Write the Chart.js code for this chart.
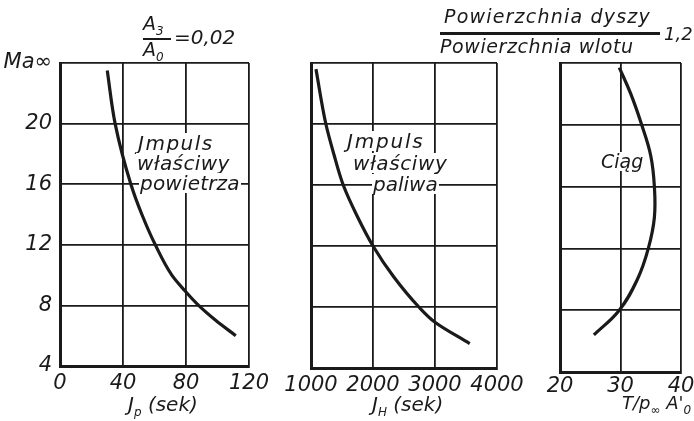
<!DOCTYPE html>
<html><head><meta charset="utf-8">
<script src="https://cdn.jsdelivr.net/npm/chart.js@4"></script>
<style>
html,body{margin:0;padding:0;background:#fff;}
#wrap{position:relative;width:694px;height:421px;overflow:hidden;}
canvas{position:absolute;left:0;top:0;}
.t{position:absolute;font-family:"DejaVu Sans",sans-serif;font-style:italic;color:#1a1a1a;white-space:nowrap;line-height:1;}
.bg{background:#fff;padding:0 1px;}
</style></head><body>
<div id="wrap">
<canvas id="c1" width="694" height="421"></canvas>
<canvas id="c2" width="694" height="421"></canvas>
<canvas id="c3" width="694" height="421"></canvas>

<div class="t" style="left:143px;top:14px;font-size:19px;">A<sub style="font-size:12px">3</sub></div>
<div style="position:absolute;left:143px;top:38px;width:28px;height:2px;background:#1a1a1a;"></div>
<div class="t" style="left:143px;top:40px;font-size:19px;">A<sub style="font-size:12px">0</sub></div>
<div class="t" style="left:174px;top:27px;font-size:20px;">=0,02</div>

<div class="t" style="left:444px;top:7px;font-size:19px;letter-spacing:1.2px;">Powierzchnia dyszy</div>
<div style="position:absolute;left:440px;top:32px;width:220px;height:3px;background:#1a1a1a;"></div>
<div class="t" style="left:664px;top:25px;font-size:18px;">1,2</div>
<div class="t" style="left:440px;top:37px;font-size:19px;letter-spacing:0.6px;">Powierzchnia wlotu</div>

<div class="t bg" style="left:137px;top:133px;font-size:20px;letter-spacing:1.5px;">Jmpuls</div>
<div class="t bg" style="left:136px;top:153px;font-size:20px;letter-spacing:0.4px;">właściwy</div>
<div class="t bg" style="left:139px;top:173px;font-size:20px;letter-spacing:0.2px;">powietrza</div>

<div class="t bg" style="left:346px;top:131px;font-size:20px;letter-spacing:1.8px;">Jmpuls</div>
<div class="t bg" style="left:352px;top:153px;font-size:20px;letter-spacing:0.6px;">właściwy</div>
<div class="t bg" style="left:372px;top:174px;font-size:20px;">paliwa</div>

<div class="t bg" style="left:600px;top:152px;font-size:19px;">Ciąg</div>

<div class="t" style="left:128px;top:394px;font-size:20px;">J<sub style="font-size:12px">p</sub> (sek)</div>
<div class="t" style="left:372px;top:394px;font-size:20px;">J<sub style="font-size:12px">H</sub> (sek)</div>
<div class="t" style="left:622px;top:394px;font-size:18px;">T/p<sub style="font-size:12px">∞</sub> A'<sub style="font-size:12px">0</sub></div>
</div>
<script>
const maAir = [6.0, 7, 8, 9, 10, 12, 14, 16, 20, 23.5];
const jAir  = [111.6, 99, 88, 79, 71, 60.5, 52, 45, 35, 30];

const maFuel = [5.6, 7, 8, 10, 12, 14, 16, 18, 20, 23.6];
const jFuel  = [3560, 3000, 2740, 2330, 2000, 1740, 1520, 1370, 1240, 1080];

const maThrust = [6.4, 8, 10, 12, 14, 16, 18, 20, 22, 23.7];
const thrust   = [25.6, 29.8, 32.8, 34.6, 35.6, 35.6, 35, 33.5, 31.7, 29.8];

const maTicks = [4, 8, 12, 16, 20, 24];
const jAirTicks = [0, 40, 80, 120];
const jFuelTicks = [1000, 2000, 3000, 4000];
const thrustTicks = [20, 30, 40];

const INK = '#1a1a1a';
const FONT = {family: '"DejaVu Sans", sans-serif', style: 'italic', size: 21};

function makeChart(id, xs, ys, xTicks, area, showY, tickPad, monotone) {
  const pts = xs.map((x, i) => ({x, y: ys[i]}));
  const yW = showY ? 60 : 0;
  const xH = 28;
  const ds = {data: pts, showLine: true, borderColor: INK, borderWidth: 3.2,
    pointRadius: 0, fill: false};
  if (monotone) ds.cubicInterpolationMode = 'monotone'; else ds.tension = 0.4;
  return new Chart(document.getElementById(id), {
    type: 'scatter',
    data: {datasets: [ds]},
    options: {
      indexAxis: 'y',
      responsive: false, animation: false,
      plugins: {legend: {display: false}, tooltip: {enabled: false}},
      layout: {padding: {left: area.left - yW, top: area.top, right: 694 - area.right,
        bottom: 421 - area.bottom - xH}},
      scales: {
        x: {type: 'linear', min: xTicks[0], max: xTicks[xTicks.length - 1],
          afterBuildTicks: s => { s.ticks = xTicks.map(v => ({value: v})); },
          afterFit: s => { s.height = xH; s.paddingLeft = 0; s.paddingRight = 0; },
          grid: {color: INK, lineWidth: 1.8, drawTicks: false},
          border: {color: INK, width: 3},
          ticks: {color: INK, font: FONT, padding: tickPad, maxRotation: 0, autoSkip: false,
            callback: v => String(v)}},
        y: {type: 'linear', min: 4, max: 24,
          afterBuildTicks: s => { s.ticks = maTicks.map(v => ({value: v})); },
          afterFit: s => { s.width = yW; s.paddingTop = 0; s.paddingBottom = 0; },
          grid: {color: INK, lineWidth: 1.8, drawTicks: false},
          border: {color: INK, width: 3},
          ticks: {display: showY, color: INK, font: FONT, padding: 8, autoSkip: false,
            callback: v => v === 24 ? 'Ma∞' : String(v)}}
      }
    }
  });
}

makeChart('c1', jAir, maAir, jAirTicks, {left: 60, right: 249, top: 63, bottom: 366}, true, 5, true);
makeChart('c2', jFuel, maFuel, jFuelTicks, {left: 311, right: 497, top: 63, bottom: 368}, false, 5, true);
makeChart('c3', thrust, maThrust, thrustTicks, {left: 560, right: 681, top: 63, bottom: 372}, false, 2, false);
</script>
</body></html>
